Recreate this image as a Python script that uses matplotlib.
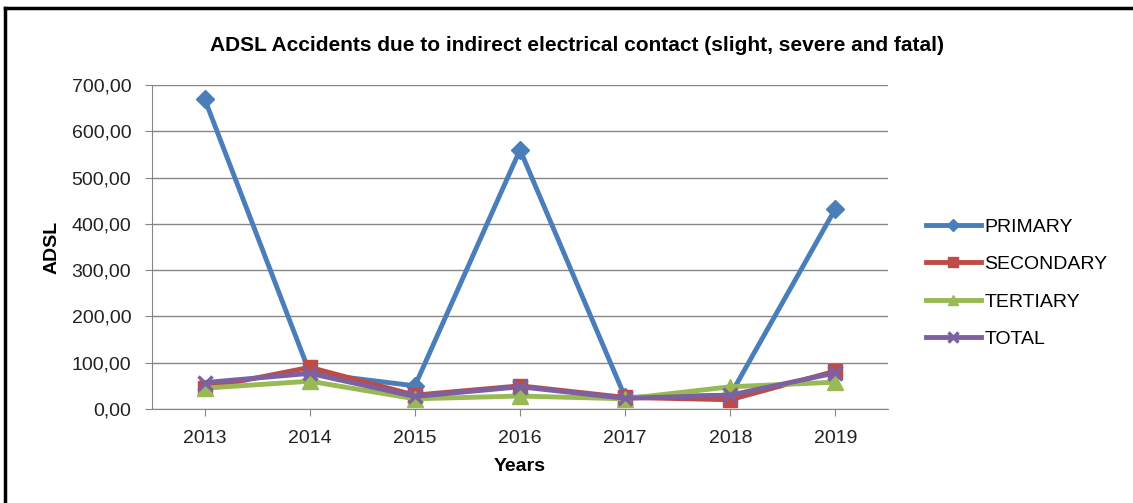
import matplotlib
matplotlib.use("Agg")
import matplotlib.pyplot as plt
from matplotlib.lines import Line2D

years = ["2013", "2014", "2015", "2016", "2017", "2018", "2019"]
primary = [670, 78, 50, 560, 25, 30, 433]
secondary = [45, 90, 30, 50, 25, 20, 82]
tertiary = [45, 60, 22, 28, 22, 48, 58]
total = [57, 77, 27, 48, 23, 30, 78]
yticks = [0, 100, 200, 300, 400, 500, 600, 700]

plt.rcParams['font.family'] = ['Liberation Sans', 'DejaVu Sans']

fig = plt.figure(figsize=(11.33, 5.03), dpi=100)
ax = fig.add_axes([0.1342, 0.1869, 0.6496, 0.6441])

x = list(range(len(years)))
series = [
    ("PRIMARY", primary, "#4A7EBB", "D", 9),
    ("SECONDARY", secondary, "#BE4B48", "s", 10),
    ("TERTIARY", tertiary, "#98B954", "^", 11),
    ("TOTAL", total, "#7D60A0", "x", 10),
]
for name, vals, c, m, ms in series:
    kw = dict(markeredgewidth=2.5) if m == "x" else dict(markeredgecolor=c)
    ax.plot(x, vals, color=c, lw=3.5, marker=m, markersize=ms, label=name, **kw)

ax.set_xlim(-0.5, 6.5)
ax.set_ylim(0, 700)
ax.set_xticks(x)
ax.set_xticklabels(years, fontsize=14, color="#222222")
ax.set_yticks(yticks)
ax.set_yticklabels([f"{v:.2f}".replace(".", ",") for v in yticks], fontsize=14, color="#222222")
ax.yaxis.grid(True, color="#868686", lw=1)
ax.set_axisbelow(True)
for s in ["top", "right"]:
    ax.spines[s].set_visible(False)
for s in ["left", "bottom"]:
    ax.spines[s].set_color("#868686")
ax.tick_params(axis="both", length=5, color="#868686")
ax.tick_params(axis="x", direction="out", pad=10)
ax.tick_params(axis="y", pad=10)
ax.set_ylabel("ADSL", fontsize=14, fontweight="bold", labelpad=8)
ax.set_xlabel("Years", fontsize=14, fontweight="bold", labelpad=8)

fig.text(0.509, 0.91, "ADSL Accidents due to indirect electrical contact (slight, severe and fatal)",
         ha="center", va="center", fontsize=15, fontweight="bold",
         family=["Liberation Sans", "DejaVu Sans"])

handles = [Line2D([], [], color=c, lw=3.5, marker=m, markersize=ms * 0.7,
                  markeredgewidth=(2.5 if m == "x" else 1), markeredgecolor=c)
           for _, _, c, m, ms in series]
fig.legend(handles, [s[0] for s in series], loc="center left",
           bbox_to_anchor=(0.802, 0.437), frameon=False, fontsize=14,
           handlelength=2.8, labelspacing=1.02, handletextpad=0.2)

# outer frame
fig.add_artist(Line2D([0.0045, 1.0], [0.984, 0.984], color="black", lw=2.5, transform=fig.transFigure))
fig.add_artist(Line2D([0.0045, 0.0045], [0.0, 0.984], color="black", lw=2.5, transform=fig.transFigure))

fig.savefig("out.png", dpi=100, facecolor="white")
